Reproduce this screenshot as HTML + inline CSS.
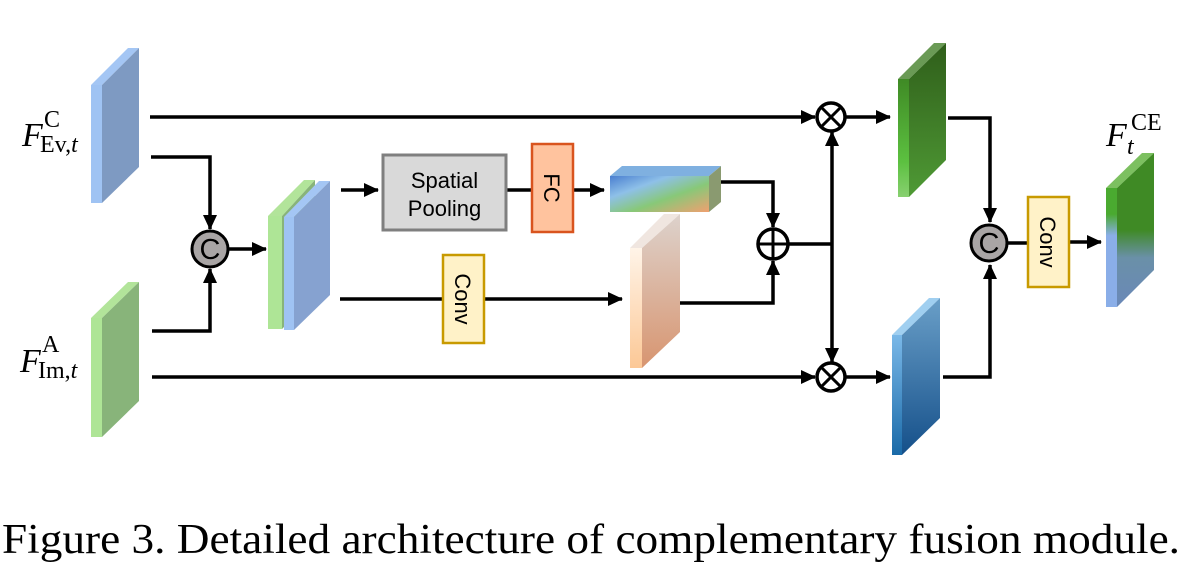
<!DOCTYPE html>
<html><head><meta charset="utf-8"><style>
html,body{margin:0;padding:0;background:#fff;}
svg{display:block;}
</style></head><body>
<svg width="1194" height="572" viewBox="0 0 1194 572" xmlns="http://www.w3.org/2000/svg">
<defs>
<marker id="ah" markerWidth="15" markerHeight="14" refX="14" refY="7" orient="auto" markerUnits="userSpaceOnUse"><path d="M0,0 L15,7 L0,14 z" fill="#000"/></marker>
<linearGradient id="gGreen" x1="0" y1="0" x2="0" y2="1"><stop offset="0" stop-color="#2f5e1a"/><stop offset="1" stop-color="#4f9a35"/></linearGradient>
<linearGradient id="gGreenF" x1="0" y1="0" x2="0" y2="1"><stop offset="0" stop-color="#3f8a25"/><stop offset="0.7" stop-color="#5cc040"/><stop offset="1" stop-color="#88d070"/></linearGradient>
<linearGradient id="gBlue" x1="0" y1="0" x2="0" y2="1"><stop offset="0" stop-color="#6a9fc8"/><stop offset="1" stop-color="#15508a"/></linearGradient>
<linearGradient id="gBlueF" x1="0" y1="0" x2="0" y2="1"><stop offset="0" stop-color="#7ab8e8"/><stop offset="1" stop-color="#1a6aa8"/></linearGradient>
<linearGradient id="gPeach" x1="0" y1="0" x2="0" y2="1"><stop offset="0" stop-color="#ddd2cc"/><stop offset="1" stop-color="#d89570"/></linearGradient>
<linearGradient id="gPeachF" x1="0" y1="0" x2="0" y2="1"><stop offset="0" stop-color="#fff4e8"/><stop offset="1" stop-color="#fcc896"/></linearGradient>
<linearGradient id="gBar" x1="0" y1="0" x2="1" y2="1"><stop offset="0" stop-color="#4a7fd0"/><stop offset="0.3" stop-color="#8ec0e8"/><stop offset="0.6" stop-color="#88c878"/><stop offset="1" stop-color="#f0a070"/></linearGradient>
<linearGradient id="gFin" x1="0" y1="0" x2="0" y2="1"><stop offset="0" stop-color="#3f8a25"/><stop offset="0.5" stop-color="#3f8a25"/><stop offset="0.68" stop-color="#6a90a8"/><stop offset="1" stop-color="#6a88b8"/></linearGradient>
<linearGradient id="gFinF" x1="0" y1="0" x2="0" y2="1"><stop offset="0" stop-color="#4aaa30"/><stop offset="0.22" stop-color="#4aaa30"/><stop offset="0.4" stop-color="#8aaee8"/><stop offset="1" stop-color="#8aaee8"/></linearGradient>
</defs>

<polygon points="91,85 128,48 139,48 102,85" fill="#a4c6f4"/>
<polygon points="91,85 102,85 102,203 91,203" fill="#9fc3f3"/>
<polygon points="102,85 139,48 139,167 102,203" fill="#7e9ac2"/>
<polygon points="91,318 128,282 139,282 102,318" fill="#b2e49a"/>
<polygon points="91,318 102,318 102,437 91,437" fill="#aee596"/>
<polygon points="102,318 139,282 139,401 102,437" fill="#88b47a"/>

<text x="22" y="146" font-family="Liberation Serif, serif" font-style="italic" font-size="34">F</text>
<text x="44" y="127" font-family="Liberation Serif, serif" font-size="24">C</text>
<text x="40" y="152" font-family="Liberation Serif, serif" font-size="24">Ev,<tspan font-style="italic">t</tspan></text>
<text x="20" y="372" font-family="Liberation Serif, serif" font-style="italic" font-size="34">F</text>
<text x="42" y="352" font-family="Liberation Serif, serif" font-size="24">A</text>
<text x="38" y="378" font-family="Liberation Serif, serif" font-size="24">Im,<tspan font-style="italic">t</tspan></text>

<g stroke="#000" stroke-width="3.5" fill="none">
<line x1="150" y1="117" x2="815" y2="117" marker-end="url(#ah)"/>
<line x1="152" y1="377" x2="815" y2="377" marker-end="url(#ah)"/>
<polyline points="151,157 210,157 210,229" marker-end="url(#ah)"/>
<polyline points="152,331 210,331 210,269" marker-end="url(#ah)"/>
<line x1="229" y1="249" x2="266" y2="249" marker-end="url(#ah)"/>
<line x1="341" y1="190" x2="378" y2="190" marker-end="url(#ah)"/>
<line x1="506" y1="190" x2="532" y2="190"/>
<line x1="573" y1="190" x2="604" y2="190" marker-end="url(#ah)"/>
<line x1="340" y1="299" x2="622" y2="299" marker-end="url(#ah)"/>
<polyline points="721,182 773,182 773,227" marker-end="url(#ah)"/>
<polyline points="680,303 773,303 773,261" marker-end="url(#ah)"/>
<line x1="789" y1="244" x2="832" y2="244"/>
<line x1="832" y1="244" x2="832" y2="132" marker-end="url(#ah)"/>
<line x1="832" y1="244" x2="832" y2="362" marker-end="url(#ah)"/>
<line x1="845" y1="117" x2="890" y2="117" marker-end="url(#ah)"/>
<line x1="845" y1="377" x2="890" y2="377" marker-end="url(#ah)"/>
<polyline points="948,118 990,118 990,222" marker-end="url(#ah)"/>
<polyline points="943,377 990,377 990,265" marker-end="url(#ah)"/>
<line x1="1008" y1="243" x2="1028" y2="243"/>
<line x1="1069" y1="242" x2="1101" y2="242" marker-end="url(#ah)"/>
</g>

<circle cx="210" cy="249" r="18" fill="#a9a5a5" stroke="#000" stroke-width="3"/>
<text x="210" y="259" text-anchor="middle" font-family="Liberation Sans, sans-serif" font-size="29">C</text>

<polygon points="268,216 304,180 315,180 282,216" fill="#b2e49a"/>
<polygon points="268,216 282,216 282,329 268,329" fill="#aee596"/>
<polygon points="282,216 315,180 315,296 282,329" fill="#88b47a"/>
<polygon points="284,217 319,181 330,181 294,217" fill="#a4c6f4"/>
<polygon points="284,217 294,217 294,330 284,330" fill="#9fc3f3"/>
<polygon points="294,217 330,181 330,295 294,330" fill="#86a2d0"/>

<rect x="383" y="155" width="123" height="75" fill="#d9d9d9" stroke="#7f7f7f" stroke-width="3"/>
<text x="444.5" y="188" text-anchor="middle" font-family="Liberation Sans, sans-serif" font-size="22">Spatial</text>
<text x="444.5" y="216" text-anchor="middle" font-family="Liberation Sans, sans-serif" font-size="22">Pooling</text>
<rect x="532" y="144" width="41" height="88" fill="#ffc39e" stroke="#d9541e" stroke-width="2.5"/>
<text transform="translate(544,188) rotate(90)" text-anchor="middle" font-family="Liberation Sans, sans-serif" font-size="22">FC</text>
<rect x="443" y="255" width="41" height="88" fill="#fff2c8" stroke="#c89a00" stroke-width="2.5"/>
<text transform="translate(455,299) rotate(90)" text-anchor="middle" font-family="Liberation Sans, sans-serif" font-size="22">Conv</text>

<polygon points="610,176 622,166 721,166 709,176" fill="#7fb0e0"/>
<rect x="610" y="176" width="99" height="36" fill="url(#gBar)"/>
<polygon points="709,176 721,166 721,202 709,212" fill="#8a9a70"/>

<polygon points="630,248 664,214 680,214 642,248" fill="#f0e6e0"/>
<polygon points="630,248 642,248 642,368 630,368" fill="url(#gPeachF)"/>
<polygon points="642,248 680,214 680,332 642,368" fill="url(#gPeach)"/>

<circle cx="773" cy="244" r="15" fill="#fff" stroke="#000" stroke-width="3.5"/>
<line x1="758" y1="244" x2="788" y2="244" stroke="#000" stroke-width="3"/>
<line x1="773" y1="229" x2="773" y2="259" stroke="#000" stroke-width="3"/>

<g stroke="#000" stroke-width="3.5" fill="#fff">
<circle cx="831" cy="117" r="14"/>
<circle cx="831" cy="377" r="14"/>
</g>
<g stroke="#000" stroke-width="3">
<line x1="821" y1="107" x2="841" y2="127"/><line x1="841" y1="107" x2="821" y2="127"/>
<line x1="821" y1="367" x2="841" y2="387"/><line x1="841" y1="367" x2="821" y2="387"/>
</g>

<polygon points="898,79 934,43 946,43 909,79" fill="#6a9a55"/>
<polygon points="898,79 909,79 909,197 898,197" fill="url(#gGreenF)"/>
<polygon points="909,79 946,43 946,160 909,197" fill="url(#gGreen)"/>
<polygon points="892,335 929,298 940,298 902,335" fill="#a0cff0"/>
<polygon points="892,335 902,335 902,455 892,455" fill="url(#gBlueF)"/>
<polygon points="902,335 940,298 940,418 902,455" fill="url(#gBlue)"/>

<circle cx="989" cy="243" r="18" fill="#a9a5a5" stroke="#000" stroke-width="3"/>
<text x="989" y="253" text-anchor="middle" font-family="Liberation Sans, sans-serif" font-size="29">C</text>
<rect x="1028" y="197" width="41" height="90" fill="#fff2c8" stroke="#c89a00" stroke-width="2.5"/>
<text transform="translate(1040,242) rotate(90)" text-anchor="middle" font-family="Liberation Sans, sans-serif" font-size="22">Conv</text>

<polygon points="1106,188 1142,153 1154,153 1117,188" fill="#7cc060"/>
<polygon points="1106,188 1117,188 1117,307 1106,307" fill="url(#gFinF)"/>
<polygon points="1117,188 1154,153 1154,270 1117,307" fill="url(#gFin)"/>

<text x="1106" y="146" font-family="Liberation Serif, serif" font-style="italic" font-size="34">F</text>
<text x="1127" y="154" font-family="Liberation Serif, serif" font-style="italic" font-size="24">t</text>
<text x="1131" y="130" font-family="Liberation Serif, serif" font-size="24">CE</text>

<text x="2" y="553" font-family="Liberation Serif, serif" font-size="42" textLength="1178" lengthAdjust="spacingAndGlyphs">Figure 3. Detailed architecture of complementary fusion module.</text>
</svg>
</body></html>
